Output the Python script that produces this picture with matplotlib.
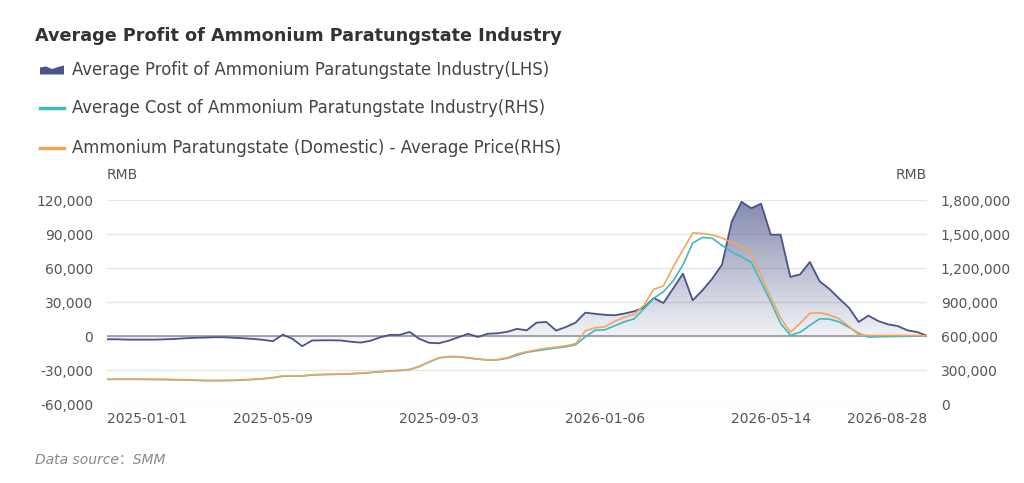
import matplotlib.pyplot as plt
import numpy as np
from matplotlib.colors import LinearSegmentedColormap
from matplotlib.patches import Polygon

plt.rcParams['font.family'] = ['DejaVu Sans', 'Noto Sans CJK SC']

tick_pos = [0, 17, 34, 51, 68, 84]
tick_labels = ["2025-01-01", "2025-05-09", "2025-09-03", "2026-01-06", "2026-05-14", "2026-08-28"]

# average profit, RMB (left axis)
profit = [-2900, -2900, -3200, -3200, -3200, -3200, -2900, -2600, -2000, -1600,
          -1400, -1100, -1100, -1600, -2000, -2600, -3400, -4600, 1200, -2500,
          -9000, -4000, -3800, -3800, -4000, -5100, -5800, -4200, -1100, 1000,
          1000, 3600, -2500, -6000, -6400, -4200, -1100, 1900, -900, 2000,
          2400, 3700, 6300, 5000, 11800, 12400, 4800, 7900, 11800, 20600,
          19600, 18700, 18300, 19800, 21800, 25000, 33500, 29100, 42000, 55000,
          31500, 40300, 50600, 63000, 101000, 118400, 112700, 116800, 89300, 89500,
          52100, 54400, 65300, 48300, 41500, 33000, 25000, 12400, 18000, 13200,
          10300, 8800, 5000, 3500, 200]

# average cost, RMB (right axis)
cost = [217500, 217500, 217500, 217500, 216500, 216000, 215000, 213500, 211500, 209000,
        206500, 205500, 206500, 208000, 211500, 217000, 222000, 231000, 245000, 247000,
        247000, 255500, 259000, 261000, 263000, 266000, 270500, 277000, 284000, 291000,
        295500, 303000, 330000, 370000, 405500, 417000, 416000, 405500, 395500, 387500,
        389000, 403500, 430000, 456400, 469600, 482800, 494300, 504900, 522500, 593000,
        650300, 654700, 689900, 725100, 751600, 839700, 932200, 989500, 1086400, 1227400,
        1421000, 1469700, 1462600, 1399000, 1341900, 1297900, 1249400, 1077600, 901400, 711900,
        606200, 632600, 694300, 751600, 748900, 725100, 676700, 623800, 590300, 593000,
        594700, 596500, 597400, 599100, 601800]

# average price, RMB (right axis)
price = [220000, 220000, 220000, 220000, 219000, 218500, 217600, 215900, 214100, 211500,
         208800, 207900, 208800, 210600, 214100, 219400, 224700, 233500, 247600, 249400,
         249400, 258200, 261700, 263400, 265200, 268700, 273100, 279300, 286400, 293400,
         297800, 305700, 333000, 372700, 408000, 419400, 418500, 408000, 398300, 390300,
         392100, 408000, 441400, 460800, 478400, 491600, 502200, 513700, 531300, 645800,
         672300, 681100, 729500, 764800, 791200, 870500, 1011500, 1042300, 1209700, 1359500,
         1509300, 1504900, 1491700, 1465000, 1425600, 1392100, 1328700, 1139300, 936600, 760400,
         632600, 711900, 800000, 804400, 786800, 751600, 685500, 610600, 604400, 605000,
         605000, 605000, 605000, 604000, 603000]

c_profit = "#4b5388"
c_cost = "#3dbac4"
c_price = "#f2a65a"
c_text = "#555555"

x = np.arange(len(profit))

fig = plt.figure(figsize=(10.24, 4.83), dpi=100)
ax = fig.add_axes([107 / 1024, 1 - 404 / 483, 820 / 1024, 204 / 483])
ax2 = ax.twinx()

ax.set_xlim(0, len(profit) - 1)
ax.set_ylim(-60000, 120000)
ax2.set_ylim(0, 1800000)
ax.set_yticks(np.arange(-60000, 120001, 30000))
ax2.set_yticks(np.arange(0, 1800001, 300000))
ax.set_yticklabels([f"{v:,}" for v in range(-60000, 120001, 30000)])
ax2.set_yticklabels([f"{v:,}" for v in range(0, 1800001, 300000)])
ax.grid(axis="y", color="#e6e6e6", lw=1)
ax.set_axisbelow(True)
for a in (ax, ax2):
    for s in a.spines.values():
        s.set_visible(False)
    a.tick_params(length=0, labelsize=10, colors=c_text, pad=10)
ax.axhline(0, color="#a0a0a8", lw=1.3, zorder=1)

ax.set_xticks(tick_pos)
ax.set_xticklabels(tick_labels)
ax.tick_params(axis="x", pad=6)
xl = ax.get_xticklabels()
xl[0].set_ha("left")
xl[-1].set_ha("right")

# gradient area under profit
pmax, pmin = max(profit), min(profit)
cmap = LinearSegmentedColormap.from_list("g", [(0.29, 0.33, 0.53, 0.03), (0.29, 0.33, 0.53, 0.68)])
grad = np.linspace(0, 1, 256).reshape(-1, 1)
img = ax.imshow(grad, cmap=cmap, aspect="auto", origin="lower",
                extent=[0, len(profit) - 1, pmin, pmax], zorder=2)
poly = Polygon([(0, 0)] + list(zip(x, profit)) + [(len(profit) - 1, 0)],
               closed=True, facecolor="none", edgecolor="none")
ax.add_patch(poly)
img.set_clip_path(poly)
ax.plot(x, profit, color=c_profit, lw=1.3, zorder=3)

ax2.plot(x, cost, color=c_cost, lw=1.2, zorder=4)
ax2.plot(x, price, color=c_price, lw=1.2, zorder=4)

# overlay in pixel coordinates for title / legend
ov = fig.add_axes([0, 0, 1, 1], facecolor="none")
ov.set_xlim(0, 1024)
ov.set_ylim(483, 0)
ov.axis("off")

ov.text(35, 36, "Average Profit of Ammonium Paratungstate Industry", fontsize=12.7,
        fontweight="bold", color="#333333", va="center", ha="left")

leg = ["Average Profit of Ammonium Paratungstate Industry(LHS)",
       "Average Cost of Ammonium Paratungstate Industry(RHS)",
       "Ammonium Paratungstate (Domestic) - Average Price(RHS)"]
leg_y = [70, 108, 148]
ov.add_patch(Polygon([(40, 74.5), (40, 67.5), (46, 66.5), (52, 69), (58, 67), (64, 65.5), (64, 74.5)],
                     closed=True, facecolor=c_profit, edgecolor="none"))
ov.plot([40, 64], [leg_y[1], leg_y[1]], color=c_cost, lw=2.5)
ov.plot([40, 64], [leg_y[2], leg_y[2]], color=c_price, lw=2.5)
for t, yy in zip(leg, leg_y):
    ov.text(72, yy, t, fontsize=11.9, color="#444444", va="center", ha="left")

ov.text(107, 175, "RMB", fontsize=10, color=c_text, va="center", ha="left")
ov.text(927, 175, "RMB", fontsize=10, color=c_text, va="center", ha="right")
ov.text(35, 460, "Data source：SMM", fontsize=10, color="#888888", style="italic",
        va="center", ha="left")

fig.savefig("out.png", dpi=100)
